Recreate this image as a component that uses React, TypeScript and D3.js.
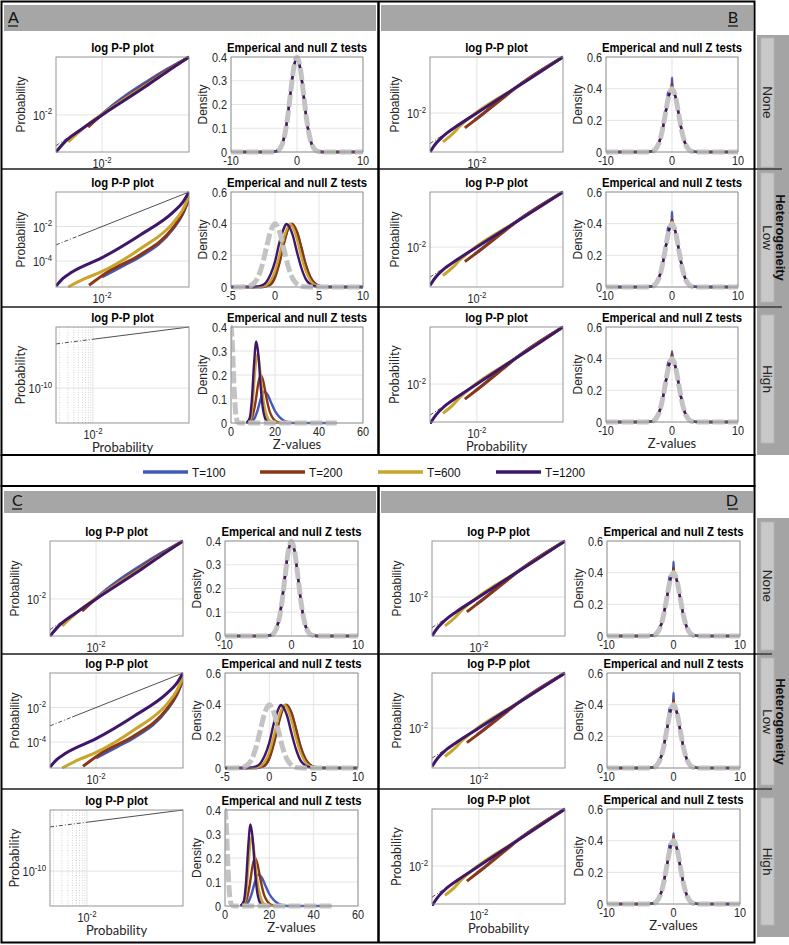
import React from 'react';
import * as d3 from 'd3';

type Pt = [number, number];

const seriesNames = ['T=100', 'T=200', 'T=600', 'T=1200'];
const seriesColors = ['#4259ba', '#8a3716', '#c9a52c', '#3e176b'];
const nullColor = '#c3c3c3';
const rowNames = ['None', 'Low', 'High'];
const stripTitle = 'Heterogeneity';
const ppTitle = 'log P-P plot';
const densTitle = 'Emperical and null Z tests';

// ---------- log P-P curves: [log10 expected p, log10 observed p]; order T=100, T=200, T=600, T=1200
const ppLeftNone: Pt[][] = [
  [[-2.02, -2.0], [-1.8, -1.72], [-1.5, -1.38], [-1.0, -0.88], [-0.5, -0.42], [0, 0]],
  [[-2.32, -2.42], [-2.1, -2.12], [-1.5, -1.45], [-1.0, -0.95], [-0.5, -0.46], [0, 0]],
  [[-2.78, -2.93], [-2.6, -2.68], [-2.3, -2.3], [-2.0, -1.98], [-1.0, -0.98], [0, 0]],
  [[-3.06, -3.28], [-2.85, -2.92], [-2.5, -2.52], [-2.0, -2.0], [-1.0, -1.02], [-0.5, -0.5], [0, 0]],
];
const ppLeftLow: Pt[][] = [
  [[-2.0, -4.92], [-1.5, -4.25], [-1.13, -3.75], [-0.37, -2.14], [-0.15, -1.3], [0, -0.38]],
  [[-2.3, -5.4], [-1.82, -4.55], [-1.13, -3.65], [-0.37, -2.08], [-0.15, -1.25], [0, -0.35]],
  [[-2.78, -5.5], [-2.4, -5.02], [-2.0, -4.6], [-1.13, -3.3], [-0.37, -1.8], [-0.15, -1.05], [0, -0.25]],
  [[-3.06, -5.45], [-2.9, -5.0], [-2.7, -4.65], [-2.0, -3.8], [-1.13, -2.5], [-0.37, -1.18], [-0.15, -0.62], [0, 0]],
];
const ppLeftHigh: Pt[][] = [[], [], [], []];
const ppRight: Pt[][] = [
  [[-2.05, -2.25], [-1.9, -2.08], [-1.7, -1.82], [-1.5, -1.55], [-1.2, -1.2], [0, 0]],
  [[-2.28, -2.53], [-2.0, -2.2], [-1.6, -1.72], [-1.35, -1.41], [-1.1, -1.1], [0, 0]],
  [[-2.79, -3.03], [-2.55, -2.72], [-2.4, -2.47], [-2.2, -2.2], [-1.0, -1.0], [0, 0]],
  [[-3.09, -3.39], [-2.95, -3.08], [-2.79, -2.83], [-2.5, -2.5], [-2.0, -2.0], [-1.0, -1.0], [0, 0]],
];

// ---------- densities: [Z, density]
const densNull: Pt[] = [[-10, 0], [-4, 0], [-3.5, 0.001], [-3, 0.004], [-2.5, 0.018], [-2, 0.054], [-1.5, 0.13], [-1, 0.242], [-0.5, 0.352], [0, 0.399], [0.5, 0.352], [1, 0.242], [1.5, 0.13], [2, 0.054], [2.5, 0.018], [3, 0.004], [3.5, 0.001], [4, 0], [48, 0]];

const densLeftNone: Pt[][] = [
  [[-10, 0], [-4, 0], [-3.5, 0.002], [-3, 0.006], [-2.5, 0.022], [-2, 0.06], [-1.5, 0.14], [-1, 0.255], [-0.5, 0.36], [0, 0.392], [0.5, 0.345], [1, 0.235], [1.5, 0.125], [2, 0.05], [2.5, 0.016], [3, 0.004], [3.5, 0.001], [4, 0], [10, 0]],
  [[-10, 0], [-4, 0], [-3.5, 0.001], [-3, 0.005], [-2.5, 0.019], [-2, 0.056], [-1.5, 0.133], [-1, 0.245], [-0.5, 0.354], [0, 0.397], [0.5, 0.35], [1, 0.24], [1.5, 0.128], [2, 0.053], [2.5, 0.017], [3, 0.004], [3.5, 0.001], [4, 0], [10, 0]],
  [[-10, 0], [-4, 0], [-3.5, 0.001], [-3, 0.004], [-2.5, 0.018], [-2, 0.055], [-1.5, 0.131], [-1, 0.244], [-0.5, 0.353], [0, 0.398], [0.5, 0.351], [1, 0.241], [1.5, 0.129], [2, 0.054], [2.5, 0.018], [3, 0.004], [3.5, 0.001], [4, 0], [10, 0]],
  [[-10, 0], [-4, 0], [-3.5, 0.001], [-3, 0.004], [-2.5, 0.018], [-2, 0.054], [-1.5, 0.131], [-1, 0.243], [-0.5, 0.351], [0, 0.398], [0.5, 0.353], [1, 0.241], [1.5, 0.129], [2, 0.054], [2.5, 0.018], [3, 0.004], [3.5, 0.001], [4, 0], [10, 0]],
];
const densLeftLow: Pt[][] = [
  [[-5, 0], [-1.5, 0], [-1, 0.005], [-0.5, 0.018], [0, 0.065], [0.5, 0.16], [1, 0.28], [1.5, 0.37], [1.8, 0.395], [2.5, 0.345], [3, 0.245], [3.5, 0.14], [4, 0.065], [4.5, 0.025], [5, 0.008], [6, 0.001], [7, 0], [10, 0]],
  [[-5, 0], [-1.5, 0], [-1, 0.004], [-0.5, 0.015], [0, 0.06], [0.5, 0.15], [1, 0.27], [1.5, 0.37], [1.9, 0.4], [2.5, 0.35], [3, 0.25], [3.5, 0.14], [4, 0.065], [4.5, 0.024], [5, 0.007], [5.5, 0.002], [6.5, 0], [10, 0]],
  [[-5, 0], [-2, 0], [-1.5, 0.003], [-1, 0.012], [-0.5, 0.04], [0, 0.1], [0.5, 0.2], [1, 0.31], [1.5, 0.385], [1.7, 0.398], [2, 0.38], [2.5, 0.3], [3, 0.19], [3.5, 0.1], [4, 0.042], [4.5, 0.014], [5, 0.004], [6, 0], [10, 0]],
  [[-5, 0], [-2.5, 0], [-2, 0.003], [-1.5, 0.01], [-1, 0.03], [-0.5, 0.08], [0, 0.16], [0.5, 0.28], [1, 0.37], [1.3, 0.398], [1.5, 0.39], [2, 0.33], [2.5, 0.22], [3, 0.12], [3.5, 0.05], [4, 0.018], [4.5, 0.005], [5, 0.001], [6, 0], [10, 0]],
];
const densLeftHigh: Pt[][] = [
  [[8, 0], [10, 0.01], [12, 0.05], [13.5, 0.1], [15, 0.13], [16.5, 0.12], [18, 0.09], [20, 0.05], [22, 0.025], [24, 0.01], [26, 0.003], [28, 0], [48, 0]],
  [[7, 0], [9.5, 0.02], [11, 0.08], [12.5, 0.17], [13.5, 0.2], [14.5, 0.18], [16, 0.11], [17.5, 0.05], [19, 0.02], [21, 0.005], [25, 0]],
  [[7, 0], [9, 0.02], [10, 0.1], [11, 0.22], [12, 0.29], [13, 0.24], [14, 0.15], [15, 0.08], [16, 0.04], [17.5, 0.01], [20, 0.002], [22, 0]],
  [[7, 0], [8.5, 0.02], [9.5, 0.1], [10.5, 0.25], [11.5, 0.34], [12.5, 0.28], [13.5, 0.15], [14.5, 0.06], [15.5, 0.02], [17, 0.003], [20, 0]],
];
const densRightBlueNone: Pt[] = [[-10, 0], [-4, 0], [-3, 0.005], [-2.5, 0.02], [-2, 0.055], [-1.5, 0.13], [-1, 0.24], [-0.7, 0.33], [-0.6, 0.38], [-0.4, 0.38], [-0.2, 0.39], [-0.05, 0.4], [0, 0.47], [0.05, 0.41], [0.25, 0.38], [0.5, 0.35], [1, 0.24], [1.5, 0.13], [2, 0.054], [2.5, 0.018], [3, 0.004], [4, 0], [10, 0]];
const densRightBlueLow: Pt[] = [[-10, 0], [-4, 0], [-3, 0.005], [-2.5, 0.02], [-2, 0.055], [-1.5, 0.13], [-1, 0.24], [-0.7, 0.33], [-0.6, 0.38], [-0.4, 0.38], [-0.2, 0.39], [-0.05, 0.4], [0, 0.475], [0.05, 0.41], [0.25, 0.38], [0.5, 0.35], [1, 0.24], [1.5, 0.13], [2, 0.054], [2.5, 0.018], [3, 0.004], [4, 0], [10, 0]];
const densRightBlueHigh: Pt[] = [[-10, 0], [-4, 0], [-3, 0.005], [-2.5, 0.02], [-2, 0.055], [-1.5, 0.13], [-1, 0.24], [-0.7, 0.33], [-0.6, 0.38], [-0.4, 0.38], [-0.2, 0.39], [-0.05, 0.4], [0, 0.445], [0.05, 0.41], [0.25, 0.38], [0.5, 0.35], [1, 0.24], [1.5, 0.13], [2, 0.054], [2.5, 0.018], [3, 0.004], [4, 0], [10, 0]];
const densRightBrown: Pt[] = [[-10, 0], [-4, 0], [-3, 0.004], [-2.5, 0.018], [-2, 0.054], [-1.5, 0.13], [-1, 0.242], [-0.5, 0.352], [-0.1, 0.395], [0, 0.43], [0.1, 0.395], [0.5, 0.352], [1, 0.242], [1.5, 0.13], [2, 0.054], [2.5, 0.018], [3, 0.004], [4, 0], [10, 0]];
const densRightGold: Pt[] = [[-10, 0], [-4, 0], [-3, 0.004], [-2.5, 0.018], [-2, 0.054], [-1.5, 0.13], [-1, 0.242], [-0.5, 0.352], [-0.1, 0.395], [0, 0.41], [0.1, 0.395], [0.5, 0.352], [1, 0.242], [1.5, 0.13], [2, 0.054], [2.5, 0.018], [3, 0.004], [4, 0], [10, 0]];
const densRightPurple: Pt[] = [[-10, 0], [-4, 0], [-3.5, 0.001], [-3, 0.004], [-2.5, 0.018], [-2, 0.054], [-1.5, 0.13], [-1, 0.242], [-0.5, 0.352], [0, 0.4], [0.5, 0.352], [1, 0.242], [1.5, 0.13], [2, 0.054], [2.5, 0.018], [3, 0.004], [3.5, 0.001], [4, 0], [10, 0]];
const densRightNone: Pt[][] = [densRightBlueNone, densRightBrown, densRightGold, densRightPurple];
const densRightLow: Pt[][] = [densRightBlueLow, densRightBrown, densRightGold, densRightPurple];
const densRightHigh: Pt[][] = [densRightBlueHigh, densRightBrown, densRightGold, densRightPurple];

// ---------- axes settings per row (left column / right column)
const ppXDomLeft = [[-3.06, 0], [-3.06, 0], [-2.77, 0]];
const ppYDomLeft = [[-3.28, 0], [-5.5, 0], [-15.7, 0]];
const ppYTicksLeft = [[-2], [-2, -4], [-10]];
const ppXDomRight = [[-3.09, 0], [-3.09, 0], [-3.09, 0]];
const ppYDomRight = [[-3.39, 0], [-3.45, 0], [-3.33, 0]];
const ppYTicksRight = [[-2], [-2], [-2]];
const ppXTicks = [-2];
const ppMinorGrid = [0.002, 0.003, 0.004, 0.005, 0.006, 0.007, 0.008, 0.009];
const ppDashEndLeft = [-2.6, -2.55, -2.0];
const ppDashEndRight = [-2.6, -2.6, -2.5];

const dnXDomLeft = [[-10, 10], [-5, 10], [0, 60]];
const dnXTicksLeft = [[-10, 0, 10], [-5, 0, 5, 10], [0, 20, 40, 60]];
const dnYDomLeft = [[0, 0.4], [0, 0.6], [0, 0.4]];
const dnYTicksLeft = [[0, 0.1, 0.2, 0.3, 0.4], [0, 0.2, 0.4, 0.6], [0, 0.1, 0.2, 0.3, 0.4]];
const dnXDomRight = [[-10, 10], [-10, 10], [-10, 10]];
const dnXTicksRight = [[-10, 0, 10], [-10, 0, 10], [-10, 0, 10]];
const dnYDomRight = [[0, 0.6], [0, 0.6], [0, 0.6]];
const dnYTicksRight = [[0, 0.2, 0.4, 0.6], [0, 0.2, 0.4, 0.6], [0, 0.2, 0.4, 0.6]];

const W = 789;
const H = 945;
const FONT = '"Liberation Sans", Arial, Helvetica, sans-serif';
const FONT2 = 'Lato, "Open Sans", sans-serif';
const TICK = '#262626';
const BOX = '#8a8a8a';
const GRID = '#e3e3e3';
const SQ = 0.87; // horizontal squeeze of the figure's text

const panels = [
  { letter: 'A', side: 'left', ppX: [56, 189], dnX: [231, 363], rows: [[57, 152], [192, 287], [327, 423]] },
  { letter: 'B', side: 'right', ppX: [430, 563], dnX: [606, 738], rows: [[57, 152], [192, 287], [327, 422]] },
  { letter: 'C', side: 'left', ppX: [50, 183], dnX: [225, 358], rows: [[541, 636], [673, 768], [810, 906]] },
  { letter: 'D', side: 'right', ppX: [432, 565], dnX: [607, 740], rows: [[541, 636], [673, 768], [809, 904]] },
];

function T({ x, y, anchor = 'start', size = 12.5, weight = 'normal', fill = TICK, family, children }: any) {
  return (
    <text transform={`translate(${x},${y}) scale(${SQ},1)`} textAnchor={anchor} fontSize={size} fontWeight={weight} fill={fill} fontFamily={family}>
      {children}
    </text>
  );
}

function Pow10({ x, y, exp, anchor }: any) {
  return (
    <T x={x} y={y} anchor={anchor} size={12.5}>
      10<tspan dy={-5.5} fontSize={9}>{exp}</tspan>
    </T>
  );
}

function PPAxes({ id, x0, x1, y0, y1, xDom, yDom, yTicks, curves, minor, dashEnd, bottomRow }: any) {
  const xs = d3.scaleLog().domain([Math.pow(10, xDom[0]), Math.pow(10, xDom[1])]).range([x0, x1]);
  const ys = d3.scaleLog().domain([Math.pow(10, yDom[0]), Math.pow(10, yDom[1])]).range([y1, y0]);
  const line = d3.line<Pt>().x((d) => xs(Math.pow(10, d[0]))).y((d) => ys(Math.pow(10, d[1]))).curve(d3.curveMonotoneX);
  const refDash: Pt[] = [[xDom[0], xDom[0]], [dashEnd, dashEnd]];
  const refSolid: Pt[] = [[dashEnd, dashEnd], [xDom[1], xDom[1]]];
  const cy = (y0 + y1) / 2;
  return (
    <g>
      <defs>
        <clipPath id={id}>
          <rect x={x0} y={y0 - 2} width={x1 - x0} height={y1 - y0 + 4} />
        </clipPath>
      </defs>
      {minor && ppMinorGrid.filter((v: number) => v > Math.pow(10, xDom[0])).map((v: number, i: number) => (
        <line key={'m' + i} x1={xs(v)} x2={xs(v)} y1={y0} y2={y1} stroke="#b5b5b5" strokeWidth={0.6} strokeDasharray="1,1.5" />
      ))}
      {ppXTicks.map((e, i) => (
        <line key={'gx' + i} x1={xs(Math.pow(10, e))} x2={xs(Math.pow(10, e))} y1={y0} y2={y1} stroke={GRID} strokeWidth={1} />
      ))}
      {yTicks.map((e: number, i: number) => (
        <line key={'gy' + i} x1={x0} x2={x1} y1={ys(Math.pow(10, e))} y2={ys(Math.pow(10, e))} stroke={GRID} strokeWidth={1} />
      ))}
      <g clipPath={`url(#${id})`}>
        <path d={line(refDash) || ''} fill="none" stroke="#222" strokeWidth={0.8} strokeDasharray="4,2,1,2" />
        <path d={line(refSolid) || ''} fill="none" stroke="#222" strokeWidth={0.8} />
        {curves.map((c: Pt[], i: number) =>
          c.length ? <path key={i} d={line(c) || ''} fill="none" stroke={seriesColors[i]} strokeWidth={3} strokeLinecap="butt" /> : null
        )}
      </g>
      <rect x={x0} y={y0} width={x1 - x0} height={y1 - y0} fill="none" stroke={BOX} strokeWidth={0.9} />
      {yTicks.map((e: number, i: number) => (
        <Pow10 key={'ty' + i} x={x0 - 4} y={ys(Math.pow(10, e)) + 5} exp={String(e)} anchor="end" />
      ))}
      {ppXTicks.map((e, i) => (
        <Pow10 key={'tx' + i} x={xs(Math.pow(10, e))} y={y1 + 16} exp={String(e)} anchor="middle" />
      ))}
      <T x={(x0 + x1) / 2} y={y0 - 5} anchor="middle" size={13} weight="bold" fill="#000">{ppTitle}</T>
      <text transform={`translate(${x0 - 31},${cy}) rotate(-90)`} textAnchor="middle" fontSize={bottomRow ? 12.5 : 12} fontFamily={bottomRow ? FONT2 : FONT} fill={TICK}>Probability</text>
      {bottomRow && (
        <text x={(x0 + x1) / 2} y={y1 + 29} textAnchor="middle" fontSize={13} fontFamily={FONT2} fill={TICK}>Probability</text>
      )}
    </g>
  );
}

function DensAxes({ id, x0, x1, y0, y1, xDom, yDom, xTicks, yTicks, curves, bottomRow }: any) {
  const xs = d3.scaleLinear().domain(xDom).range([x0, x1]);
  const ys = d3.scaleLinear().domain(yDom).range([y1, y0]);
  const line = d3.line<Pt>().x((d) => xs(d[0])).y((d) => ys(d[1])).curve(d3.curveMonotoneX);
  const cy = (y0 + y1) / 2;
  return (
    <g>
      <defs>
        <clipPath id={id}>
          <rect x={x0} y={y0 - 3} width={x1 - x0} height={y1 - y0 + 6} />
        </clipPath>
      </defs>
      {xTicks.map((v: number, i: number) => (
        <line key={'gx' + i} x1={xs(v)} x2={xs(v)} y1={y0} y2={y1} stroke={GRID} strokeWidth={1} />
      ))}
      {yTicks.map((v: number, i: number) => (
        <line key={'gy' + i} x1={x0} x2={x1} y1={ys(v)} y2={ys(v)} stroke={GRID} strokeWidth={1} />
      ))}
      <g clipPath={`url(#${id})`}>
        {curves.map((c: Pt[], i: number) => (
          <path key={i} d={line(c) || ''} fill="none" stroke={seriesColors[i]} strokeWidth={2.4} />
        ))}
        <path d={line(densNull) || ''} fill="none" stroke={nullColor} strokeWidth={5} strokeDasharray="12,3.5" />
      </g>
      <rect x={x0} y={y0} width={x1 - x0} height={y1 - y0} fill="none" stroke={BOX} strokeWidth={0.9} />
      {yTicks.map((v: number, i: number) => (
        <T key={'ty' + i} x={x0 - 4} y={ys(v) + 4.5} anchor="end">{String(v)}</T>
      ))}
      {xTicks.map((v: number, i: number) => (
        <T key={'tx' + i} x={xs(v)} y={y1 + 13} anchor="middle">{String(v)}</T>
      ))}
      <T x={(x0 + x1) / 2} y={y0 - 5} anchor="middle" size={13} weight="bold" fill="#000">{densTitle}</T>
      <text transform={`translate(${x0 - 24},${cy}) rotate(-90)`} textAnchor="middle" fontSize={12} fill={TICK}>Density</text>
      {bottomRow && (
        <text x={(x0 + x1) / 2} y={y1 + 26} textAnchor="middle" fontSize={13} fontFamily={FONT2} fill={TICK}>Z-values</text>
      )}
    </g>
  );
}

const legendLineX = [143, 260, 378, 496];

export default function App() {
  const ppLeftRows = [ppLeftNone, ppLeftLow, ppLeftHigh];
  const ppRightRows = [ppRight, ppRight, ppRight];
  const dnLeftRows = [densLeftNone, densLeftLow, densLeftHigh];
  const dnRightRows = [densRightNone, densRightLow, densRightHigh];

  const strips = [
    { y0: 35, y1: 455, boxes: [[38, 167], [173, 302], [315, 443]], lines: [169, 307], lineEnd: 782 },
    { y0: 518, y1: 937, boxes: [[522, 650], [658, 785], [798, 925]], lines: [654, 789], lineEnd: 772 },
  ];

  return (
    <div style={{ position: 'absolute', left: 0, top: 0, width: W, height: H, background: '#fff' }}>
      <svg width={W} height={H} viewBox={`0 0 ${W} ${H}`} style={{ display: 'block', fontFamily: FONT }}>
        <rect x={0} y={0} width={W} height={H} fill="#fff" />

        {/* right strips */}
        {strips.map((s, si) => (
          <g key={'strip' + si}>
            <rect x={757} y={s.y0} width={32} height={s.y1 - s.y0} fill="#a4a4a4" />
            {s.boxes.map((b, bi) => (
              <g key={bi}>
                <rect x={761} y={b[0]} width={13} height={b[1] - b[0]} fill="#c8c8c8" stroke="#b6b6b6" strokeWidth={0.8} />
                <text transform={`translate(767.5,${(b[0] + b[1]) / 2}) rotate(90)`} textAnchor="middle" dominantBaseline="central" fontSize={13.5} fill="#222">{rowNames[bi]}</text>
              </g>
            ))}
            <text transform={`translate(780,${(s.boxes[1][0] + s.boxes[1][1]) / 2}) rotate(90)`} textAnchor="middle" dominantBaseline="central" fontSize={13} fontWeight="bold" fill="#111">{stripTitle}</text>
            {s.lines.map((ly, li) => (
              <line key={li} x1={2} x2={s.lineEnd} y1={ly} y2={ly} stroke="#555" strokeWidth={2} />
            ))}
          </g>
        ))}

        {/* headers */}
        <rect x={4} y={5} width={372} height={26} fill="#a6a6a6" />
        <rect x={381} y={5} width={372} height={26} fill="#a6a6a6" />
        <rect x={4} y={491} width={372} height={22} fill="#a6a6a6" />
        <rect x={381} y={491} width={372} height={22} fill="#a6a6a6" />
        {[
          { t: 'A', x: 8, y: 23, a: 'start' },
          { t: 'B', x: 738, y: 23, a: 'end' },
          { t: 'C', x: 12, y: 506, a: 'start' },
          { t: 'D', x: 738, y: 506, a: 'end' },
        ].map((l) => (
          <g key={l.t}>
            <text x={l.x} y={l.y} textAnchor={l.a as any} fontSize={16} fontFamily={FONT2} fill="#111">{l.t}</text>
            <line x1={l.a === 'start' ? l.x : l.x - 10} x2={l.a === 'start' ? l.x + 10 : l.x} y1={l.y + 3} y2={l.y + 3} stroke="#111" strokeWidth={1.2} />
          </g>
        ))}

        {/* panels */}
        {panels.map((p, pi) =>
          p.rows.map((r, ri) => {
            const left = p.side === 'left';
            return (
              <g key={p.letter + ri}>
                <PPAxes
                  id={`pp${pi}${ri}`}
                  x0={p.ppX[0]} x1={p.ppX[1]} y0={r[0]} y1={r[1]}
                  xDom={left ? ppXDomLeft[ri] : ppXDomRight[ri]}
                  yDom={left ? ppYDomLeft[ri] : ppYDomRight[ri]}
                  yTicks={left ? ppYTicksLeft[ri] : ppYTicksRight[ri]}
                  curves={left ? ppLeftRows[ri] : ppRightRows[ri]}
                  minor={left && ri === 2}
                  dashEnd={left ? ppDashEndLeft[ri] : ppDashEndRight[ri]}
                  bottomRow={ri === 2}
                />
                <DensAxes
                  id={`dn${pi}${ri}`}
                  x0={p.dnX[0]} x1={p.dnX[1]} y0={r[0]} y1={r[1]}
                  xDom={left ? dnXDomLeft[ri] : dnXDomRight[ri]}
                  xTicks={left ? dnXTicksLeft[ri] : dnXTicksRight[ri]}
                  yDom={left ? dnYDomLeft[ri] : dnYDomRight[ri]}
                  yTicks={left ? dnYTicksLeft[ri] : dnYTicksRight[ri]}
                  curves={left ? dnLeftRows[ri] : dnRightRows[ri]}
                  bottomRow={ri === 2}
                />
              </g>
            );
          })
        )}

        {/* frames */}
        <rect x={1.5} y={1.5} width={753} height={453.5} fill="none" stroke="#000" strokeWidth={2} />
        <line x1={378.5} x2={378.5} y1={2} y2={455} stroke="#000" strokeWidth={2.5} />
        <rect x={1.5} y={455} width={753} height={31} fill="none" stroke="#000" strokeWidth={2} />
        <rect x={1.5} y={486} width={753} height={456.5} fill="none" stroke="#000" strokeWidth={2} />
        <line x1={378.5} x2={378.5} y1={486} y2={942} stroke="#000" strokeWidth={2.5} />

        {/* legend */}
        {seriesNames.map((n, i) => (
          <g key={n}>
            <line x1={legendLineX[i]} x2={legendLineX[i] + 45} y1={472} y2={472} stroke={seriesColors[i]} strokeWidth={3.5} />
            <T x={legendLineX[i] + 49} y={476.5} size={13.5} fill="#111">{n}</T>
          </g>
        ))}
      </svg>
    </div>
  );
}
